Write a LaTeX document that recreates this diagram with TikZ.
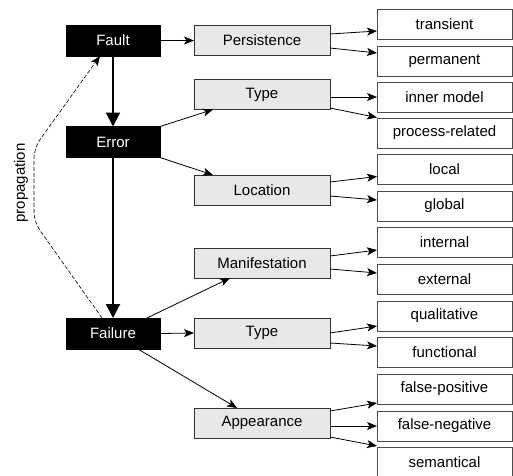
\documentclass[tikz,border=0pt]{standalone}
\usepackage{fontspec}
\setmainfont{Liberation Sans}
\usetikzlibrary{arrows.meta}
\begin{document}
\begin{tikzpicture}[x=1pt,y=-1pt,
  every node/.style={font=\fontsize{15}{18}\selectfont, inner sep=0pt, outer sep=0pt},
  blackbox/.style={draw=black, fill=black, text=white, minimum width=94pt, minimum height=31pt},
  graybox/.style={draw=black!80, fill=black!9, line width=0.8pt, minimum width=136pt, minimum height=30pt},
  whitebox/.style={draw=black!70, fill=white, line width=0.8pt, minimum width=135pt, minimum height=30pt},
  arr/.style={line width=0.8pt, -{Stealth[length=10pt,width=8pt,inset=2.5pt]}},
  thickarr/.style={line width=2pt, -{Triangle[length=14pt,width=14pt]}},
  proparr/.style={line width=0.6pt, dashed, dash pattern=on 4pt off 2pt, rounded corners=10pt, -{Stealth[length=10pt,width=8pt,inset=2.5pt]}}
]
\useasboundingbox (0,0) rectangle (513,475);
\clip (0,0) rectangle (513,475);
% black boxes
\node[blackbox] (fault) at (113,40.5) {Fault};
\node[blackbox] (error) at (113,142) {Error};
\node[blackbox] (failure) at (113,333.5) {Failure};
% gray boxes
\node[graybox] (pers) at (262,40.5) {Persistence};
\node[graybox] (type) at (262,94.5) {Type};
\node[graybox] (loc) at (262,190) {Location};
\node[graybox] (man) at (262,263) {Manifestation};
\node[graybox] (type2) at (262,333) {Type};
\node[graybox] (app) at (262,423) {Appearance};
% white boxes
\node[whitebox] (trans) at (444.5,24.5) {transient};
\node[whitebox] (perm) at (444.5,61.5) {permanent};
\node[whitebox] (inner) at (444.5,97.5) {inner model};
\node[whitebox] (proc) at (444.5,133) {process-related};
\node[whitebox] (local) at (444.5,169) {local};
\node[whitebox] (glob) at (444.5,206) {global};
\node[whitebox] (int) at (444.5,242.5) {internal};
\node[whitebox] (ext) at (444.5,279) {external};
\node[whitebox] (qual) at (444.5,316) {qualitative};
\node[whitebox] (func) at (444.5,352.5) {functional};
\node[whitebox] (fpos) at (444.5,389) {false-positive};
\node[whitebox] (fneg) at (444.5,426) {false-negative};
\node[whitebox] (sem) at (444.5,462) {semantical};
% thick vertical arrows
\draw[thickarr] (fault.south) -- (error.north);
\draw[thickarr] (error.south) -- (failure.north);
% black -> gray
\draw[arr] (fault.east) -- (pers.west);
\draw[arr] (error.north east) -- ([xshift=19pt]type.south west);
\draw[arr] (error.south east) -- ([xshift=19pt]loc.north west);
\draw[arr] ([xshift=34pt]failure.north) -- ([xshift=36pt]man.south west);
\draw[arr] (failure.east) -- (type2.west);
\draw[arr] ([xshift=25pt]failure.south) -- ([xshift=43pt]app.north west);
% gray -> white
\draw[arr] ([yshift=6.5pt]pers.east) -- ([yshift=-6.5pt]trans.west);
\draw[arr] ([yshift=-7.5pt]pers.east) -- ([yshift=8.5pt]perm.west);
\draw[arr] ([yshift=-2.5pt]type.east) -- ([yshift=0.5pt]inner.west);
\draw[arr] ([yshift=-13.5pt]type.east) -- ([yshift=15.5pt]proc.west);
\draw[arr] ([yshift=8pt]loc.east) -- ([yshift=-7.5pt]local.west);
\draw[arr] ([yshift=-6pt]loc.east) -- ([yshift=6pt]glob.west);
\draw[arr] ([yshift=7pt]man.east) -- ([yshift=-7.5pt]int.west);
\draw[arr] ([yshift=-6pt]man.east) -- ([yshift=6pt]ext.west);
\draw[arr] ([yshift=0pt]type2.east) -- ([yshift=-10pt]qual.west);
\draw[arr] ([yshift=-10pt]type2.east) -- ([yshift=6.5pt]func.west);
\draw[arr] ([yshift=12pt]app.east) -- ([yshift=-14pt]fpos.west);
\draw[arr] ([yshift=-3pt]app.east) -- ([yshift=0pt]fneg.west);
\draw[arr] ([yshift=-14pt]app.east) -- ([yshift=16pt]sem.west);
% propagation
\coordinate (pc1) at (34,222);
\coordinate (pc2) at (34,148);
\draw[proparr] ([xshift=-11pt]failure.north) -- (pc1) -- (pc2) -- ([xshift=-13pt]fault.south);
\node[rotate=90] (prop) at (21,183) {propagation};
\end{tikzpicture}
\end{document}
